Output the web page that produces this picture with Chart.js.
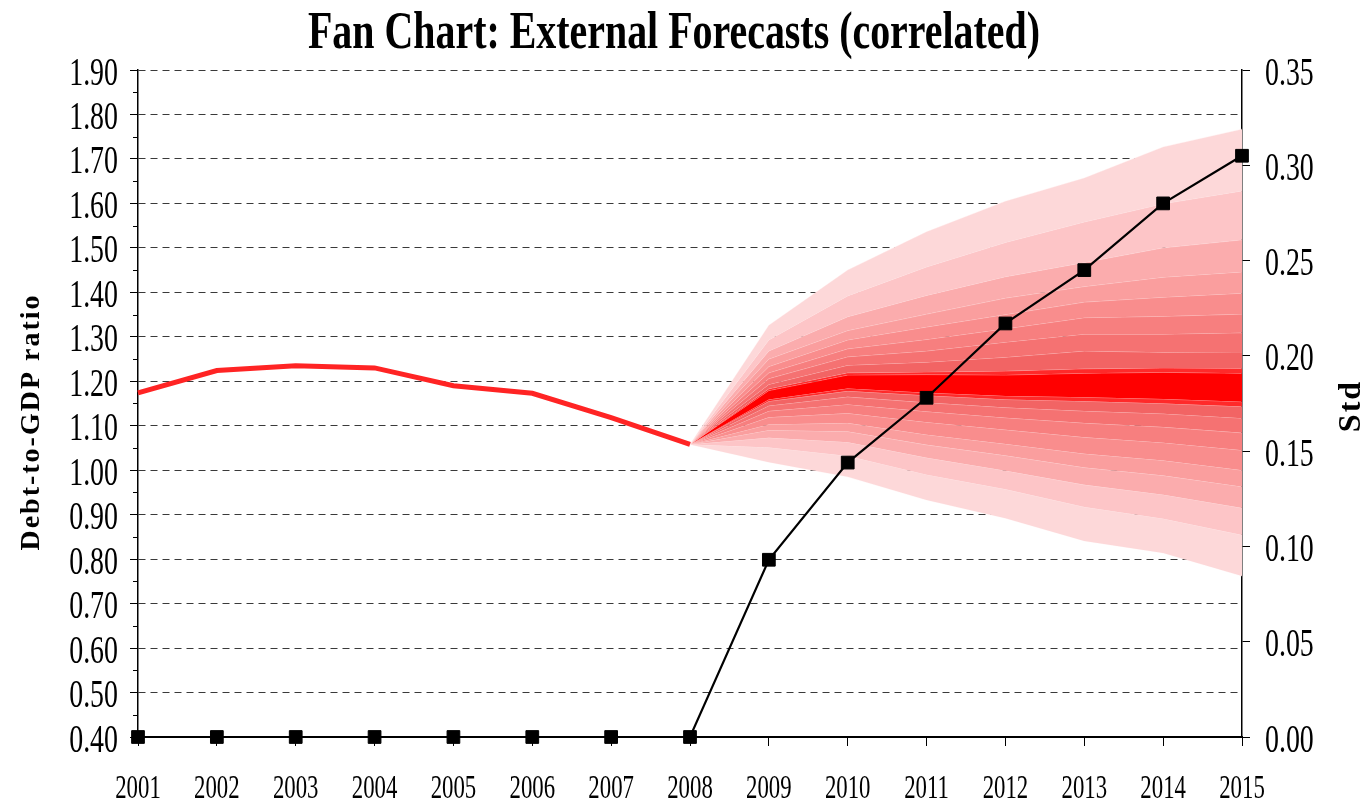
<!DOCTYPE html>
<html>
<head>
<meta charset="utf-8">
<script src="https://cdn.jsdelivr.net/npm/chart.js@4.4.1/dist/chart.umd.min.js"></script>
<style>
  html, body { margin: 0; padding: 0; background: #fff; }
  #wrap { width: 1361px; height: 803px; position: relative; }
</style>
</head>
<body>
<div id="wrap"><canvas id="fan"></canvas></div>
<script>
// x categories
const years = ['2001','2002','2003','2004','2005','2006','2007','2008',
               '2009','2010','2011','2012','2013','2014','2015'];

// historical debt-to-GDP ratio (left axis)
const debtRatio = [1.174, 1.224, 1.235, 1.230, 1.190, 1.173, 1.118, 1.058];

// standard deviation of forecasts (right axis)
const stdDev = [0, 0, 0, 0, 0, 0, 0, 0, 0.093, 0.144, 0.178, 0.217, 0.245, 0.280, 0.305];

// fan boundaries for each forecast year, listed top to bottom
const fan2008 = [1.058, 1.058, 1.058, 1.058, 1.058, 1.058, 1.058, 1.058, 1.058, 1.058,
                 1.058, 1.058, 1.058, 1.058, 1.058, 1.058, 1.058, 1.058, 1.058, 1.058];
const fan2009 = [1.326, 1.293, 1.268, 1.250, 1.233, 1.219, 1.206, 1.193, 1.183, 1.179,
                 1.159, 1.155, 1.145, 1.133, 1.119, 1.103, 1.090, 1.073, 1.051, 1.018];
const fan2010 = [1.450, 1.392, 1.345, 1.314, 1.293, 1.273, 1.255, 1.236, 1.219, 1.214,
                 1.184, 1.178, 1.165, 1.148, 1.128, 1.106, 1.087, 1.063, 1.032, 0.985];
const fan2011 = [1.536, 1.457, 1.393, 1.351, 1.322, 1.294, 1.268, 1.243, 1.221, 1.215,
                 1.174, 1.168, 1.152, 1.132, 1.108, 1.080, 1.057, 1.028, 0.990, 0.933];
const fan2012 = [1.605, 1.512, 1.435, 1.387, 1.350, 1.318, 1.288, 1.254, 1.223, 1.214,
                 1.167, 1.159, 1.141, 1.118, 1.091, 1.059, 1.033, 0.999, 0.957, 0.892];
const fan2013 = [1.657, 1.558, 1.467, 1.413, 1.378, 1.343, 1.306, 1.268, 1.228, 1.218,
                 1.164, 1.155, 1.133, 1.106, 1.074, 1.037, 1.006, 0.967, 0.917, 0.841];
const fan2014 = [1.727, 1.599, 1.500, 1.434, 1.389, 1.346, 1.306, 1.265, 1.230, 1.220,
                 1.160, 1.150, 1.127, 1.097, 1.062, 1.022, 0.988, 0.945, 0.891, 0.814];
const fan2015 = [1.767, 1.628, 1.518, 1.446, 1.398, 1.351, 1.309, 1.266, 1.229, 1.218,
                 1.154, 1.143, 1.117, 1.084, 1.045, 1.000, 0.963, 0.915, 0.854, 0.762];
const fanRows = [fan2008, fan2009, fan2010, fan2011, fan2012, fan2013, fan2014, fan2015];

// band colours, outermost (top) to outermost (bottom)
const bandColors = ['#fdd8d9', '#fdc5c7', '#fbacad', '#fa9e9e', '#f98d8d', '#f77f7f',
                    '#f57272', '#f26464', '#ff2a2a', '#ff0000', '#ff2a2a', '#f26464',
                    '#f57272', '#f77f7f', '#f98d8d', '#fa9e9e', '#fbacad', '#fdc5c7', '#fdd8d9'];

const SERIF = '"Liberation Serif", "Times New Roman", serif';
const fanStart = years.indexOf('2008');

function fanDatasets() {
    const out = [];
    const nBounds = fanRows[0].length;
    for (let b = 0; b < nBounds; b++) {
        const data = years.map((y, i) => (i < fanStart ? null : fanRows[i - fanStart][b]));
        out.push({
            label: 'fan' + b,
            data: data,
            yAxisID: 'y',
            borderWidth: 0.8,
            borderColor: 'rgba(255,235,235,0.45)',
            backgroundColor: b < bandColors.length ? bandColors[b] : 'transparent',
            fill: b < bandColors.length ? '+1' : false,
            pointRadius: 0,
            tension: 0
        });
    }
    return out;
}

function drawText(ctx, text, x, y, o) {
    ctx.save();
    ctx.translate(x, y);
    if (o.rotate) ctx.rotate(o.rotate);
    ctx.scale(o.sx || 1, 1);
    ctx.font = o.font;
    if (o.spacing) ctx.letterSpacing = o.spacing;
    ctx.textAlign = o.align || 'center';
    ctx.textBaseline = 'alphabetic';
    ctx.fillStyle = '#000';
    ctx.fillText(text, 0, 0);
    ctx.restore();
}

const textPlugin = {
    id: 'texts',
    afterDraw(chart) {
        const ctx = chart.ctx;
        const {x, y, y2} = chart.scales;
        const area = chart.chartArea;

        // minor ticks on the left axis
        ctx.save();
        ctx.strokeStyle = '#000';
        ctx.lineWidth = 1;
        for (let v = 0.45; v < 1.9; v += 0.1) {
            const py = Math.round(y.getPixelForValue(v)) + 0.5;
            ctx.beginPath();
            ctx.moveTo(area.left - 5, py);
            ctx.lineTo(area.left, py);
            ctx.stroke();
        }
        ctx.restore();

        const tickFont = '41px ' + SERIF;
        y.ticks.forEach((t) => {
            const py = y.getPixelForValue(t.value);
            drawText(ctx, t.value.toFixed(2), area.left - 20, py + 14.5, {font: tickFont, sx: 0.68, align: 'right'});
        });
        y2.ticks.forEach((t) => {
            const py = y2.getPixelForValue(t.value);
            drawText(ctx, t.value.toFixed(2), area.right + 23, py + 14.5, {font: tickFont, sx: 0.68, align: 'left'});
        });
        years.forEach((label, i) => {
            drawText(ctx, label, x.getPixelForTick(i), 798, {font: '33px ' + SERIF, sx: 0.69});
        });

        // title squeezed to the reference width
        const title = 'Fan Chart: External Forecasts (correlated)';
        ctx.save();
        ctx.font = 'bold 53px ' + SERIF;
        const w = ctx.measureText(title).width;
        ctx.restore();
        drawText(ctx, title, 674, 48, {font: 'bold 53px ' + SERIF, sx: 732 / w});

        drawText(ctx, 'Debt-to-GDP ratio', 39, 422, {font: 'bold 28px ' + SERIF, rotate: -Math.PI / 2, spacing: '2px'});
        drawText(ctx, 'Std', 1360, 406, {font: 'bold 32px ' + SERIF, rotate: -Math.PI / 2, spacing: '2px'});
    }
};

const ctx = document.getElementById('fan');
new Chart(ctx, {
    type: 'line',
    data: {
        labels: years,
        datasets: [
            {
                label: 'Std',
                data: stdDev,
                yAxisID: 'y2',
                borderColor: '#000',
                borderWidth: 2.2,
                pointStyle: 'rect',
                pointRadius: 9,
                pointBackgroundColor: '#000',
                pointBorderColor: '#000',
                pointBorderWidth: 1,
                fill: false,
                clip: false,
                tension: 0
            },
            {
                label: 'Debt-to-GDP ratio',
                data: debtRatio,
                yAxisID: 'y',
                borderColor: '#ff2424',
                borderWidth: 5,
                pointRadius: 0,
                fill: false,
                tension: 0
            },
            ...fanDatasets()
        ]
    },
    options: {
        responsive: true,
        maintainAspectRatio: false,
        animation: false,
        layout: { padding: { left: 130, right: 111, top: 70, bottom: 57 } },
        plugins: {
            legend: { display: false },
            tooltip: { enabled: false },
            title: { display: false }
        },
        scales: {
            x: {
                type: 'category',
                offset: false,
                ticks: { display: false },
                grid: { drawOnChartArea: false, drawTicks: true, tickLength: 9, tickColor: '#000', tickWidth: 1 },
                border: { display: true, color: '#000', width: 2 }
            },
            y: {
                position: 'left',
                min: 0.4,
                max: 1.9,
                ticks: { display: false, stepSize: 0.1 },
                grid: { color: '#3a3a3a', lineWidth: 1, tickLength: 8, tickColor: '#000' },
                border: { display: true, color: '#000', width: 1.5, dash: [7, 5] }
            },
            y2: {
                position: 'right',
                min: 0,
                max: 0.35,
                ticks: { display: false, stepSize: 0.05 },
                grid: { drawOnChartArea: false, tickLength: 8, tickColor: '#000' },
                border: { display: true, color: '#000', width: 1.5 }
            }
        }
    },
    plugins: [textPlugin]
});
</script>
</body>
</html>
